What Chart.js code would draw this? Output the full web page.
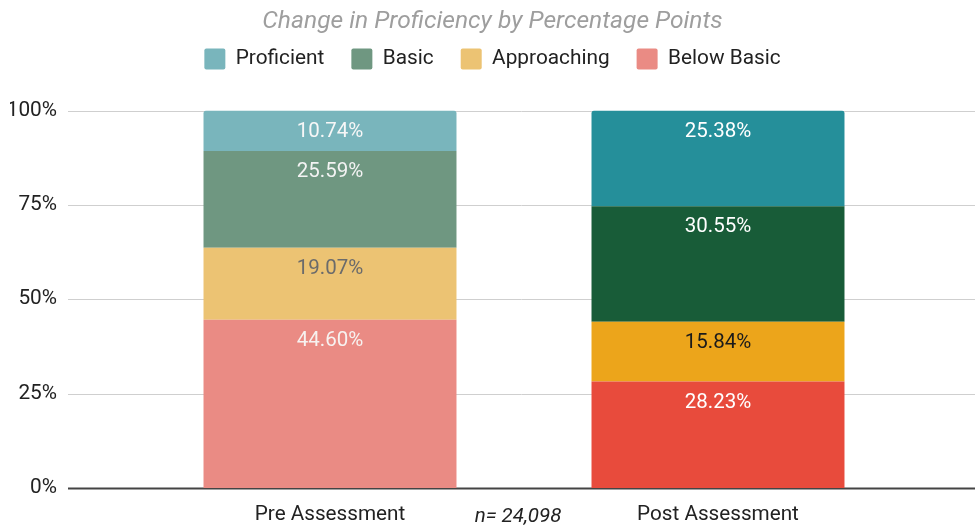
<!DOCTYPE html>
<html>
<head>
<meta charset="utf-8">
<script src="https://cdn.jsdelivr.net/npm/chart.js@4"></script>
<style>
  html, body { margin: 0; padding: 0; background: #fff; }
  #wrap { width: 975px; height: 529px; }
</style>
</head>
<body>
<div id="wrap"><canvas id="myChart"></canvas></div>
<script>
// data, stacked bottom -> top
const categories = ['Pre Assessment', 'Post Assessment']
const belowBasic = [44.60, 28.23]
const approaching = [19.07, 15.84]
const basic = [25.59, 30.55]
const proficient = [10.74, 25.38]
const yTicks = [0, 25, 50, 75, 100]
const sampleNote = 'n= 24,098'

// [pre colour (faded), post colour]
const colBelow = ['#ea8b84', '#e84b3c']
const colAppr = ['#ecc373', '#eca51b']
const colBasic = ['#6f9781', '#185c38']
const colProf = ['#79b5bc', '#258f9a']
// label text colours per bar
const lblBelow = ['#f7f2f0', '#ffffff']
const lblAppr = ['#6b6b6b', '#1a1a1a']
const lblBasic = ['#f3f3f3', '#ffffff']
const lblProf = ['#f7f7f7', '#ffffff']

function pick(cols) {
    return ctx => ctx.dataIndex === 1 || ctx.dataIndex === undefined ? cols[1] : cols[0]
}

// make some room between legend and plot
const legendGap = {
    id: 'legendGap',
    beforeInit(chart) {
        const fit = chart.legend.fit
        chart.legend.fit = function () {
            fit.bind(chart.legend)()
            this.height += 31
        }
    }
}

const gridPlugin = {
    id: 'fullGrid',
    beforeDatasetsDraw(chart) {
        const c = chart.ctx
        const y = chart.scales.y
        c.save()
        yTicks.forEach(t => {
            const py = Math.round(y.getPixelForValue(t)) + 0.5
            c.beginPath()
            c.moveTo(68, py)
            c.lineTo(975, py)
            c.lineWidth = t === 0 ? 2 : 1
            c.strokeStyle = t === 0 ? '#444' : '#cfcfcf'
            c.stroke()
        })
        c.restore()
    }
}

const labelPlugin = {
    id: 'segLabels',
    afterDatasetsDraw(chart) {
        const c = chart.ctx
        c.save()
        c.font = '20.5px Roboto'
        c.textAlign = 'center'
        c.textBaseline = 'middle'
        chart.data.datasets.forEach((ds, i) => {
            const meta = chart.getDatasetMeta(i)
            meta.data.forEach((bar, j) => {
                c.fillStyle = ds.labelColors[j]
                c.fillText(ds.data[j].toFixed(2) + '%', bar.x, bar.y + 21)
            })
        })
        // sample size note under the axis
        c.font = 'italic 20.5px Roboto'
        c.fillStyle = '#222'
        const x = chart.scales.x
        c.fillText(sampleNote, (x.left + x.right) / 2 - 6, 517)
        c.restore()
    }
}

const ctx = document.getElementById('myChart')

let chart = new Chart(ctx, {
    type: 'bar',
    data: {
        labels: categories,
        datasets: [
            { label: 'Below Basic', data: belowBasic, backgroundColor: pick(colBelow), labelColors: lblBelow },
            { label: 'Approaching', data: approaching, backgroundColor: pick(colAppr), labelColors: lblAppr },
            { label: 'Basic', data: basic, backgroundColor: pick(colBasic), labelColors: lblBasic },
            { label: 'Proficient', data: proficient, backgroundColor: pick(colProf), labelColors: lblProf }
        ]
    },
    options: {
        responsive: true,
        maintainAspectRatio: false,
        animation: false,
        layout: { padding: { left: 10, right: 0, top: 0, bottom: 0 } },
        datasets: {
            bar: {
                barPercentage: 1,
                categoryPercentage: 0.652,
                borderRadius: 3,
                borderSkipped: 'start'
            }
        },
        plugins: {
            title: {
                display: true,
                text: 'Change in Proficiency by Percentage Points',
                color: '#9e9e9e',
                font: { family: 'Roboto', size: 24.6, style: 'italic', weight: 'normal' },
                padding: { top: 7, bottom: -15 }
            },
            legend: {
                reverse: true,
                labels: {
                    boxWidth: 21,
                    boxHeight: 21,
                    useBorderRadius: true,
                    borderRadius: 2,
                    padding: 27,
                    color: '#222',
                    font: { family: 'Roboto', size: 20.8 }
                }
            },
            tooltip: { enabled: false }
        },
        scales: {
            x: {
                stacked: true,
                afterFit(scale) { scale.height = 41 },
                grid: { display: false, drawTicks: false },
                border: { display: false },
                ticks: { color: '#222', padding: 14, maxRotation: 0, font: { family: 'Roboto', size: 20.7 } }
            },
            y: {
                stacked: true,
                min: 0,
                max: 100,
                afterFit(scale) { scale.width = 126 },
                afterBuildTicks(scale) { scale.ticks = yTicks.map(v => ({ value: v })) },
                grid: { display: false, drawTicks: true, tickLength: 69 },
                border: { display: false },
                ticks: {
                    color: '#222',
                    padding: 10,
                    font: { family: 'Roboto', size: 20.8 },
                    callback: v => v + '%'
                }
            },
            // empty right axis, only keeps the plot narrower than the gridlines
            y2: {
                position: 'right',
                afterFit(scale) { scale.width = 63 },
                grid: { display: false, drawTicks: false },
                border: { display: false },
                ticks: { display: false }
            }
        }
    },
    plugins: [legendGap, gridPlugin, labelPlugin]
})
</script>
</body>
</html>
